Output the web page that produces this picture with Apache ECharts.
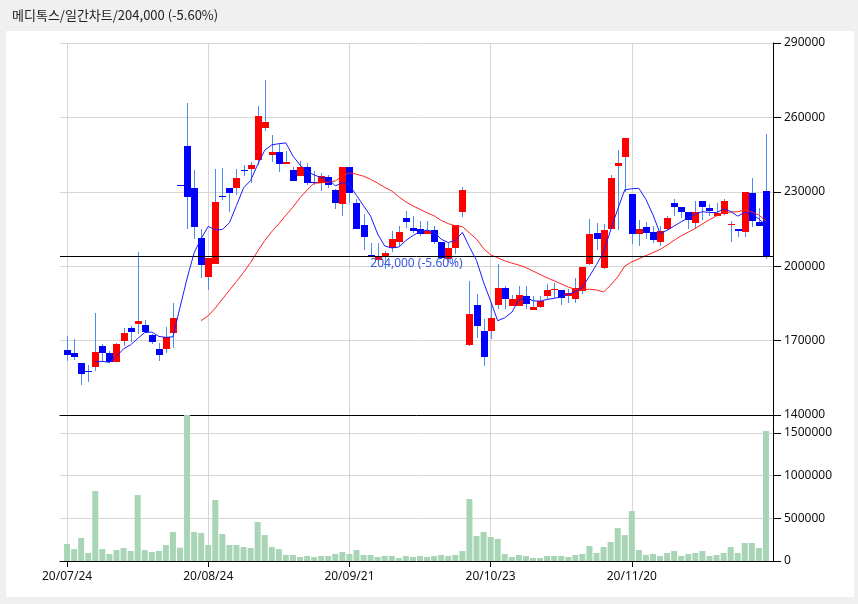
<!DOCTYPE html>
<html><head><meta charset="utf-8">
<script src="https://cdn.jsdelivr.net/npm/echarts@6/dist/echarts.min.js"></script>
<style>
html,body{margin:0;padding:0;background:#f0f0f0;}
#panel{position:absolute;left:6px;top:31px;width:848px;height:566px;background:#fff;}
#c{position:absolute;left:0;top:0;width:858px;height:604px;}
</style>
</head><body><div id="panel"></div><div id="c"></div>
<script>
const stockName = '메디톡스';
const chartKind = '일간차트';
const dates = ['20/07/24','20/07/27','20/07/28','20/07/29','20/07/30','20/07/31',
'20/08/03','20/08/04','20/08/05','20/08/06','20/08/07',
'20/08/10','20/08/11','20/08/12','20/08/13','20/08/14',
'20/08/18','20/08/19','20/08/20','20/08/21',
'20/08/24','20/08/25','20/08/26','20/08/27','20/08/28',
'20/08/31','20/09/01','20/09/02','20/09/03','20/09/04',
'20/09/07','20/09/08','20/09/09','20/09/10','20/09/11',
'20/09/14','20/09/15','20/09/16','20/09/17','20/09/18',
'20/09/21','20/09/22','20/09/23','20/09/24','20/09/25',
'20/09/28','20/09/29','20/10/05','20/10/06','20/10/07','20/10/08',
'20/10/12','20/10/13','20/10/14','20/10/15','20/10/16',
'20/10/19','20/10/20','20/10/21','20/10/22','20/10/23',
'20/10/26','20/10/27','20/10/28','20/10/29','20/10/30',
'20/11/02','20/11/03','20/11/04','20/11/05','20/11/06',
'20/11/09','20/11/10','20/11/11','20/11/12','20/11/13',
'20/11/16','20/11/17','20/11/18','20/11/19','20/11/20',
'20/11/23','20/11/24','20/11/25','20/11/26','20/11/27',
'20/11/30','20/12/01','20/12/02','20/12/03','20/12/04',
'20/12/07','20/12/08','20/12/09','20/12/10','20/12/11',
'20/12/14','20/12/15','20/12/16','20/12/17'];

const opens = [166100,165000,160900,157700,159400,167700,165200,161400,169900,175000,
176700,176200,172200,166800,166800,173100,232700,248300,231700,211500,
195600,200900,228500,231700,231700,238700,239000,243000,255600,244800,
246200,241100,238600,236300,240200,234000,233600,235800,230900,225000,
239800,225300,216800,204600,202400,203700,207500,209900,219300,215500,
214800,212800,214400,209900,203000,207200,221800,168300,184200,173900,
173900,184400,191100,184000,184000,188000,182400,183700,188000,190300,
190300,188000,186900,190000,200700,213200,199400,215100,240300,244000,
229200,213100,215900,213600,209900,215100,225600,224000,221900,217500,
226400,223300,220200,221100,216800,215200,213900,229600,217900,230500];
const highs = [171900,170600,160900,160100,181300,168500,165900,169200,175000,175900,
205700,178200,172500,169200,175500,185000,232700,266000,238600,214800,
203400,239000,239400,231700,239000,241000,242200,264500,275200,253100,
249100,246600,239900,242600,241700,238300,237600,236700,231200,240200,
239800,227200,220900,209500,209500,206100,214200,216200,222200,220200,
218200,218200,216200,209900,209500,216800,231900,194000,188700,178600,
185300,200700,192000,188300,192000,192000,188000,188000,192700,193400,
190300,190700,195400,199500,219100,217500,217200,236700,247000,251700,
229200,218500,217900,216200,216200,220200,227200,224000,221900,226200,
226400,224900,225600,227200,218200,215200,230000,235400,223300,253500];
const lows = [161600,162100,152200,153500,157800,161400,160800,161400,167900,169600,
172700,173000,168800,161800,165200,167200,232700,215200,210900,195100,
190400,200900,226600,221700,228900,236300,233600,241000,254400,241900,
237900,241100,234300,236300,232700,232700,230300,231600,222900,220200,
225600,214800,206500,204100,202400,198700,205800,208100,215500,213500,
212200,212800,208800,202800,201400,205000,219800,167900,171200,159800,
170600,182600,182900,184000,184000,182600,182400,183300,186700,187300,
184200,185300,185000,188700,200600,206500,199000,215100,214400,229900,
209100,208100,211100,209500,208100,214500,220200,219500,214800,215200,
218500,220200,220200,220800,209900,211900,211900,215900,216100,203000];
const closes = [164200,163400,156600,157700,165300,165200,161400,168500,173000,173500,
177800,173400,169500,164200,171600,179000,232700,227900,215800,200500,
203400,225700,228500,229500,235400,238700,240700,260700,258300,246200,
241100,242200,234300,240200,233400,234000,236300,232700,225400,240200,
229500,214800,211900,204600,204100,205200,211100,213600,217800,214200,
212800,214300,209900,203200,207500,216800,230900,180600,175900,163400,
179000,191100,186700,186900,188300,184600,183700,186000,190300,190700,
187300,189100,191100,199500,212800,210800,214400,235400,241700,251700,
213000,215200,213200,210400,214300,219300,223800,221800,218600,221900,
223800,222200,221500,226100,216900,214200,230000,218200,216100,204000];
const volumes = [199000,140000,269000,94000,820000,140000,82000,129000,152000,117000,
773000,129000,105000,117000,187000,340000,156000,1709500,340000,328000,
187000,714000,316000,187000,187000,164000,152000,457000,304000,164000,
140000,70000,70000,47000,59000,47000,59000,59000,82000,105000,
82000,129000,70000,70000,47000,59000,59000,35000,59000,47000,
59000,47000,59000,70000,59000,70000,117000,726000,293000,340000,
281000,258000,82000,47000,70000,59000,35000,35000,59000,59000,
59000,47000,70000,82000,176000,94000,164000,222000,386000,304000,
585000,129000,70000,82000,59000,94000,117000,59000,82000,94000,
117000,59000,70000,94000,164000,94000,211000,211000,152000,1522000];
const priceAxis = {min:140000, max:290000, step:30000};
const volumeAxis = {min:0, step:500000};
const maShort = 5, maLong = 20;

// ---- build library inputs ----
const N = dates.length;
const cats = [''].concat(dates, ['']);
function ma(n){
  const out = ['-'];
  for (let i=0;i<N;i++){
    if (i < n-1){ out.push('-'); continue; }
    let s=0; for (let k=i-n+1;k<=i;k++) s+=closes[k];
    out.push(+(s/n).toFixed(1));
  }
  out.push('-');
  return out;
}
const candleData = dates.map((d,i)=>[i+1, opens[i], closes[i], lows[i], highs[i]]);
const volData = ['-'].concat(volumes, ['-']);
const lastClose = closes[N-1], prevClose = closes[N-2];
const pct = ((lastClose-prevClose)/prevClose*100).toFixed(2);
const fmt = v => v.toLocaleString('en-US');
const lastText = fmt(lastClose) + ' (' + pct + '%)';
const volMax = Math.max.apply(null, volumes);

const WICK = '#4a8ff0';
const GRID = '#d6d6d6';
const TXT = '#111';
const FONT = '"Noto Sans", "Liberation Sans", sans-serif';
const showIdx = (idx) => idx >= 1 && idx <= N && (idx-1) % 20 === 0;

function renderCandle(params, api){
  const idx = api.value(0);
  const o = api.value(1), c = api.value(2), l = api.value(3), h = api.value(4);
  const pO = api.coord([idx, o]), pC = api.coord([idx, c]);
  const pL = api.coord([idx, l]), pH = api.coord([idx, h]);
  const x = Math.round(pO[0]);
  const col = c > o ? '#ff0000' : '#0000ff';
  const top = Math.round(Math.min(pO[1], pC[1]));
  let bot = Math.round(Math.max(pO[1], pC[1]));
  if (bot - top < 1) bot = top + 1;
  return {type:'group', children:[
    {type:'line', shape:{x1:x+0.5, y1:Math.round(pH[1]), x2:x+0.5, y2:Math.round(pL[1])},
     style:{stroke:WICK, lineWidth:1}},
    {type:'rect', shape:{x:x-3, y:top, width:7, height:bot-top}, style:{fill:col}}
  ]};
}

const chart = echarts.init(document.getElementById('c'), null, {renderer:'canvas'});
chart.setOption({
  backgroundColor:'transparent',
  animation:false,
  title:{text: stockName + '/' + chartKind + '/' + lastText, left:7, top:4,
    textStyle:{fontSize:13, fontWeight:'normal', color:'#222', fontFamily:'"Noto Sans CJK KR", "Noto Sans", sans-serif'}},
  grid:[
    {left:60, right:85, top:43, height:372},
    {left:60, right:85, top:415, height:146}
  ],
  xAxis:[
    {type:'category', gridIndex:0, data:cats, boundaryGap:false,
     axisLine:{onZero:false, lineStyle:{color:'#000', width:1}},
     axisTick:{show:false}, axisLabel:{show:false},
     splitLine:{show:true, interval:(i)=>showIdx(i), lineStyle:{color:GRID, width:1}}},
    {type:'category', gridIndex:1, data:cats, boundaryGap:false,
     axisLine:{onZero:false, lineStyle:{color:'#000', width:1}},
     axisTick:{show:true, interval:(i)=>showIdx(i), length:6, lineStyle:{color:'#000'}},
     axisLabel:{show:true, interval:(i)=>showIdx(i), color:TXT, fontSize:12, fontFamily:FONT, margin:10},
     splitLine:{show:true, interval:(i)=>showIdx(i), lineStyle:{color:GRID, width:1}}}
  ],
  yAxis:[
    {type:'value', gridIndex:0, position:'right', min:priceAxis.min, max:priceAxis.max, interval:priceAxis.step,
     axisLine:{show:true, lineStyle:{color:'#000'}},
     axisTick:{show:true, length:8, lineStyle:{color:'#000'}},
     axisLabel:{color:TXT, fontSize:12, fontFamily:FONT, margin:11, formatter:(v)=>String(v)},
     splitLine:{show:true, lineStyle:{color:GRID, width:1}}},
    {type:'value', gridIndex:1, position:'right', min:volumeAxis.min, max:volMax, interval:volumeAxis.step,
     axisLine:{show:true, lineStyle:{color:'#000'}},
     axisTick:{show:true, length:8, lineStyle:{color:'#000'}},
     axisLabel:{color:TXT, fontSize:12, fontFamily:FONT, margin:11, showMaxLabel:false,
       formatter:(v)=> (v % volumeAxis.step === 0 ? String(v) : '')},
     splitLine:{show:true, lineStyle:{color:GRID, width:1}}}
  ],
  series:[
    {type:'custom', name:'candle', xAxisIndex:0, yAxisIndex:0, data:candleData,
     encode:{x:0, y:[1,2,3,4]}, renderItem:renderCandle, z:3},
    {type:'line', name:'MA'+maLong, xAxisIndex:0, yAxisIndex:0, data:ma(maLong), symbol:'none',
     lineStyle:{color:'#ff2020', width:1}, z:4,
     markLine:{silent:true, symbol:'none', precision:0,
       lineStyle:{color:'#000', width:1, type:'solid'},
       label:{show:true, position:'insideMiddleBottom', formatter:lastText, color:'#3a5ae0',
         fontSize:12, fontFamily:FONT, distance:1},
       data:[{yAxis:lastClose}]}},
    {type:'line', name:'MA'+maShort, xAxisIndex:0, yAxisIndex:0, data:ma(maShort), symbol:'none',
     lineStyle:{color:'#1a1aff', width:1}, z:5},
    {type:'bar', name:'volume', xAxisIndex:1, yAxisIndex:1, data:volData, barWidth:6,
     itemStyle:{color:'#a8d5b6'}}
  ]
});
</script>
</body></html>
